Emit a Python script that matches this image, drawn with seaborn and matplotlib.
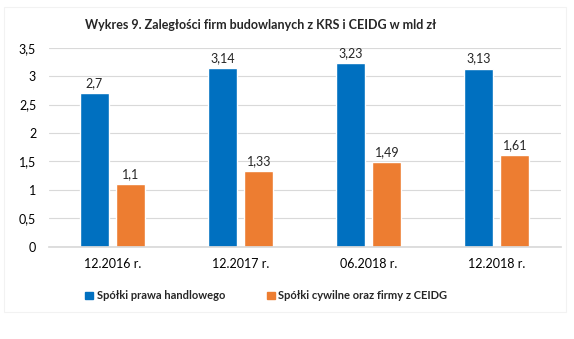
import matplotlib
matplotlib.use("Agg")
import matplotlib.pyplot as plt
import seaborn as sns
import pandas as pd
from matplotlib.ticker import FuncFormatter

categories = ["12.2016 r.", "12.2017 r.", "06.2018 r.", "12.2018 r."]
series_names = ["Spółki prawa handlowego", "Spółki cywilne oraz firmy z CEIDG"]
values_a = [2.7, 3.14, 3.23, 3.13]
values_b = [1.1, 1.33, 1.49, 1.61]
label_a = ["2,7", "3,14", "3,23", "3,13"]
label_b = ["1,1", "1,33", "1,49", "1,61"]

df = pd.DataFrame({
    "okres": categories * 2,
    "seria": [series_names[0]] * 4 + [series_names[1]] * 4,
    "wartosc": values_a + values_b,
})

sns.set_theme(style="white")
plt.rcParams['font.family'] = ['Lato', 'DejaVu Sans']

fig = plt.figure(figsize=(5.74, 3.39), dpi=100)

# faint chart frame
frame = plt.Rectangle((4 / 574, 1 - 312 / 339), 562 / 574, 305 / 339,
                      transform=fig.transFigure, fill=False,
                      edgecolor="#F2F2F2", linewidth=0.8)
fig.patches.append(frame)

ax = fig.add_axes([0.0848, 0.2723, 0.892, 0.587])
sns.barplot(data=df, x="okres", y="wartosc", hue="seria", order=categories,
            hue_order=series_names, palette=["#0070C0", "#ED7D31"],
            width=0.568, gap=0.21, ax=ax, legend=True, saturation=1)

ax.set_ylim(0, 3.5)
ax.set_yticks([0, 0.5, 1, 1.5, 2, 2.5, 3, 3.5])
ax.yaxis.set_major_formatter(FuncFormatter(lambda v, p: (f"{v:g}").replace(".", ",")))
ax.grid(axis="y", color="#D9D9D9", linewidth=0.8)
ax.set_axisbelow(True)
for s in ["top", "right", "left"]:
    ax.spines[s].set_visible(False)
ax.spines["bottom"].set_color("#D9D9D9")
ax.set_xlabel("")
ax.set_ylabel("")
ax.tick_params(axis="both", labelsize=9, length=0, colors="#000000")
ax.tick_params(axis="x", pad=8)
ax.tick_params(axis="y", pad=9)
ax.set_xlim(-0.5, 3.5)

labels = [label_a, label_b]
for i, cont in enumerate(ax.containers):
    ax.bar_label(cont, labels=labels[i], padding=3, fontsize=9)

ax.get_legend().remove()
handles = [plt.Rectangle((0, 0), 1, 1, color=c) for c in ["#0070C0", "#ED7D31"]]
fig.legend(handles, series_names, loc="center", bbox_to_anchor=(0.464, 0.127),
           ncol=2, frameon=False, handlelength=0.7, handleheight=0.7,
           handletextpad=0.3, columnspacing=3.8,
           prop={"weight": "bold", "size": 8})

fig.text(261 / 574, 1 - 25 / 339,
         "Wykres 9. Zaległości firm budowlanych z KRS i CEIDG w mld zł",
         ha="center", va="center", fontsize=9, fontweight="bold")

fig.savefig("out.png", dpi=100)
